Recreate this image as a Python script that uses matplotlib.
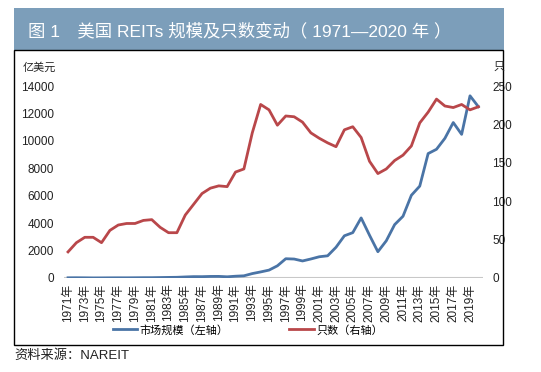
import matplotlib
matplotlib.use("Agg")
import matplotlib.pyplot as plt
from matplotlib.patches import Rectangle

plt.rcParams['font.family'] = ['Liberation Sans', 'Noto Sans CJK SC', 'DejaVu Sans']

# data
years = list(range(1971, 2021))
market_cap = [15, 19, 14, 7, 9, 13, 15, 14, 18, 23,
              24, 33, 43, 51, 77, 99, 97, 114, 117, 87,
              130, 159, 322, 443, 575, 888, 1405, 1383, 1243, 1387,
              1549, 1619, 2242, 3079, 3307, 4381, 3120, 1917, 2712, 3893,
              4505, 6034, 6703, 9074, 9389, 10187, 11337, 10476, 13288, 12492]
reit_count = [34, 46, 53, 53, 46, 62, 69, 71, 71, 75,
              76, 66, 59, 59, 82, 96, 110, 117, 120, 119,
              138, 142, 189, 226, 219, 199, 211, 210, 203, 189,
              182, 176, 171, 193, 197, 183, 152, 136, 142, 153,
              160, 172, 202, 216, 233, 224, 222, 226, 219, 223]
tick_labels = [str(y) + "年" for y in years]

blue = "#4A74A6"
red = "#B9474A"
txt = "#222222"

fig = plt.figure(figsize=(5.41, 3.72), dpi=100)

# title band and frame
fig.patches.append(Rectangle((0.026, 0.8656), 0.906, 0.113, transform=fig.transFigure,
                             facecolor="#7C9EBA", edgecolor="none"))
fig.patches.append(Rectangle((0.026, 0.0726), 0.904, 0.793, transform=fig.transFigure,
                             facecolor="none", edgecolor="black", linewidth=1.0))
fig.text(0.052, 0.917, "图 1　美国 REITs 规模及只数变动（ 1971—2020 年 ）",
         color="white", fontsize=12.5, va="center", ha="left")
fig.text(0.026, 0.043, "资料来源：NAREIT", color=txt, fontsize=9.5, va="center", ha="left")

ax = fig.add_axes([0.118, 0.2527, 0.774, 0.516])
ax2 = ax.twinx()

x = list(range(len(years)))
l1, = ax.plot(x, market_cap, color=blue, linewidth=2.0, label="市场规模（左轴）")
l2, = ax2.plot(x, reit_count, color=red, linewidth=2.0, label="只数（右轴）")

ax.set_xlim(-0.5, len(years) - 0.5)
ax.set_ylim(0, 14000)
ax.set_yticks(range(0, 14001, 2000))
ax2.set_ylim(0, 250)
ax2.set_yticks(range(0, 251, 50))

ax.set_xticks(x[::2])
ax.set_xticklabels(tick_labels[::2], rotation=90, fontsize=7.5, color=txt)

for a in (ax, ax2):
    for s in ("top", "left", "right", "bottom"):
        a.spines[s].set_visible(False)
    a.tick_params(axis="both", length=0, labelsize=8.5, labelcolor=txt)
ax.axhline(0, color="#C8C8C8", linewidth=1.5, zorder=0)
ax.tick_params(axis="y", pad=7)
ax2.tick_params(axis="y", pad=7)
ax.tick_params(axis="x", pad=4)

fig.text(0.042, 0.818, "亿美元", fontsize=8, color=txt, va="center", ha="left")
fig.text(0.913, 0.818, "只", fontsize=8, color=txt, va="center", ha="left")

fig.legend(handles=[l1, l2], loc="center", bbox_to_anchor=(0.458, 0.113), ncol=2,
           frameon=False, fontsize=8, handlelength=2.2, handletextpad=0.2,
           columnspacing=5.5)

fig.savefig("out.png", dpi=100)
